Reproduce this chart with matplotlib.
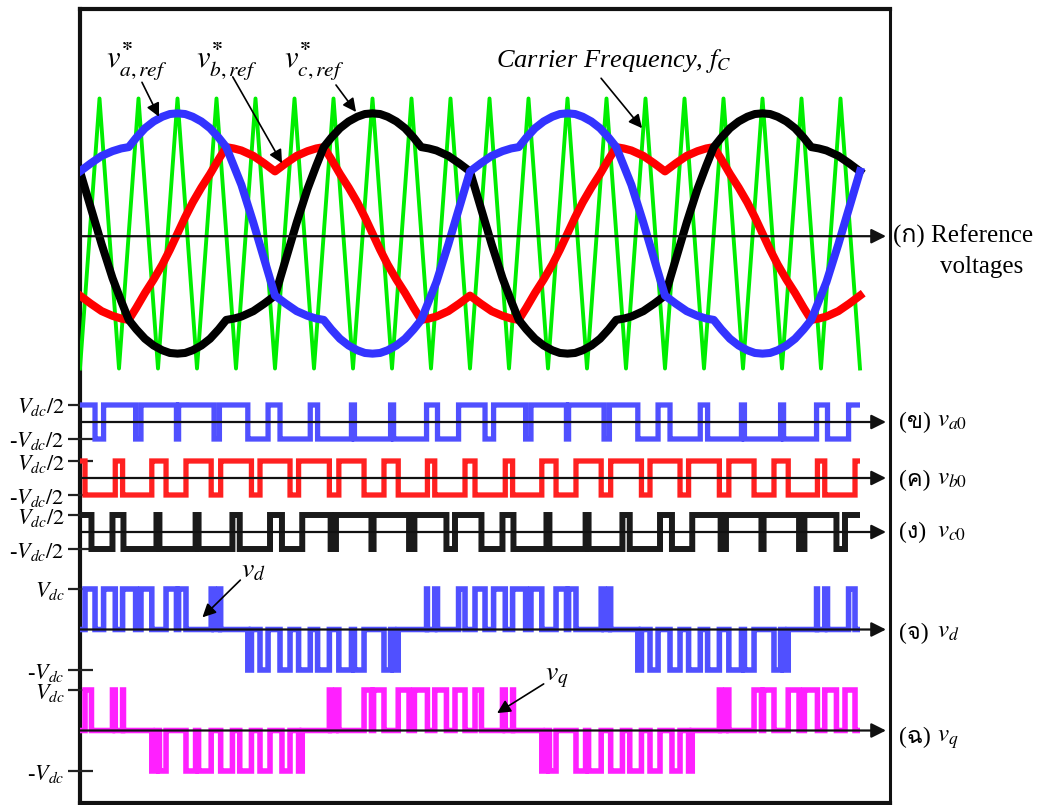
import numpy as np
import matplotlib
matplotlib.use("Agg")
import matplotlib.pyplot as plt
from matplotlib import font_manager as fm
from matplotlib.ft2font import FT2Font

# ---------------- data ----------------
# electrical angle in degrees (two fundamental periods)
THETA = [0, 10, 20, 30, 38, 45, 52, 60, 68, 76, 83, 90, 97, 104, 112, 120, 128, 135,
         142, 149, 160, 170, 180, 190, 200, 210, 218, 225, 232, 240, 248, 256, 263, 270,
         277, 284, 292, 300, 308, 315, 322, 329, 340, 350, 360,
         370, 380, 390, 398, 405, 412, 420, 428, 436, 443, 450, 457, 464, 472, 480, 488, 495,
         502, 509, 520, 530, 540, 550, 560, 570, 578, 585, 592, 600, 608, 616, 623, 630,
         637, 644, 652, 660, 668, 675, 682, 689, 700, 710, 720]

# reference voltages (per unit of carrier amplitude)
VA_REF = [0.46, 0.52, 0.575, 0.61, 0.63, 0.64, 0.71, 0.78, 0.83, 0.865, 0.885, 0.89,
          0.885, 0.865, 0.83, 0.78, 0.71, 0.64, 0.50, 0.36, 0.08, -0.19, -0.46,
          -0.52, -0.575, -0.61, -0.63, -0.64, -0.71, -0.78, -0.83, -0.865, -0.885, -0.89,
          -0.885, -0.865, -0.83, -0.78, -0.71, -0.64, -0.50, -0.36, -0.08, 0.19, 0.46,
          0.52, 0.575, 0.61, 0.63, 0.64, 0.71, 0.78, 0.83, 0.865, 0.885, 0.89,
          0.885, 0.865, 0.83, 0.78, 0.71, 0.64, 0.50, 0.36, 0.08, -0.19, -0.46,
          -0.52, -0.575, -0.61, -0.63, -0.64, -0.71, -0.78, -0.83, -0.865, -0.885, -0.89,
          -0.885, -0.865, -0.83, -0.78, -0.71, -0.64, -0.50, -0.36, -0.08, 0.19, 0.46]

VB_REF = [-0.46, -0.52, -0.575, -0.61, -0.63, -0.64, -0.55, -0.44, -0.34, -0.23, -0.12, 0.0,
          0.12, 0.23, 0.34, 0.44, 0.55, 0.64, 0.63, 0.615, 0.575, 0.52, 0.46,
          0.52, 0.575, 0.61, 0.63, 0.64, 0.55, 0.44, 0.34, 0.23, 0.12, 0.0,
          -0.12, -0.23, -0.34, -0.44, -0.55, -0.64, -0.63, -0.615, -0.575, -0.52, -0.46,
          -0.52, -0.575, -0.61, -0.63, -0.64, -0.55, -0.44, -0.34, -0.23, -0.12, 0.0,
          0.12, 0.23, 0.34, 0.44, 0.55, 0.64, 0.63, 0.615, 0.575, 0.52, 0.46,
          0.52, 0.575, 0.61, 0.63, 0.64, 0.55, 0.44, 0.34, 0.23, 0.12, 0.0,
          -0.12, -0.23, -0.34, -0.44, -0.55, -0.64, -0.63, -0.615, -0.575, -0.52, -0.46]

VC_REF = [0.46, 0.19, -0.08, -0.33, -0.50, -0.64, -0.71, -0.78, -0.83, -0.865, -0.885, -0.89,
          -0.885, -0.865, -0.83, -0.78, -0.71, -0.64, -0.63, -0.615, -0.575, -0.52, -0.46,
          -0.19, 0.08, 0.33, 0.50, 0.64, 0.71, 0.78, 0.83, 0.865, 0.885, 0.89,
          0.885, 0.865, 0.83, 0.78, 0.71, 0.64, 0.63, 0.615, 0.575, 0.52, 0.46,
          0.19, -0.08, -0.33, -0.50, -0.64, -0.71, -0.78, -0.83, -0.865, -0.885, -0.89,
          -0.885, -0.865, -0.83, -0.78, -0.71, -0.64, -0.63, -0.615, -0.575, -0.52, -0.46,
          -0.19, 0.08, 0.33, 0.50, 0.64, 0.71, 0.78, 0.83, 0.865, 0.885, 0.89,
          0.885, 0.865, 0.83, 0.78, 0.71, 0.64, 0.63, 0.615, 0.575, 0.52, 0.46]

# triangular carrier vertices
CARRIER_THETA = [0, 18, 36, 54, 72, 90, 108, 126, 144, 162, 180, 198, 216, 234, 252, 270,
                 288, 306, 324, 342, 360, 378, 396, 414, 432, 450, 468, 486, 504, 522, 540,
                 558, 576, 594, 612, 630, 648, 666, 684, 702, 720]
CARRIER_VAL = [-1, 1, -1, 1, -1, 1, -1, 1, -1, 1, -1, 1, -1, 1, -1, 1, -1, 1, -1, 1, -1,
               1, -1, 1, -1, 1, -1, 1, -1, 1, -1, 1, -1, 1, -1, 1, -1, 1, -1, 1, -1]

VDC = 1.0

REF_LABELS = [r"$v^{\mathbf{*}}_{a,ref}$", r"$v^{\mathbf{*}}_{b,ref}$", r"$v^{\mathbf{*}}_{c,ref}$"]
CARRIER_LABEL = r"Carrier Frequency, $f_C$"
PANEL_TAGS = ["(ข)", "(ค)", "(ง)", "(จ)", "(ฉ)"]
PANEL_VARS = [r"$v_{a\mathit{0}}$", r"$v_{b\mathit{0}}$", r"$v_{c\mathit{0}}$", r"$v_d$", r"$v_q$"]
TOP_LABEL = ["(ก) Reference", "voltages"]
HALF_TICKS = [r"$V_{dc}/2$", r"-$V_{dc}/2$"]
FULL_TICKS = [r"$V_{dc}$", r"-$V_{dc}$"]

# ---------------- fonts ----------------
def find_thai_family():
    seen = set()
    for f in fm.fontManager.ttflist:
        if f.fname in seen:
            continue
        seen.add(f.fname)
        try:
            ft = FT2Font(f.fname)
            if all(ft.get_char_index(ord(c)) for c in "กขคงจฉ"):
                return f.name
        except Exception:
            pass
    return None

thai = find_thai_family()
SERIF = ["Liberation Serif"] + ([thai] if thai else []) + ["DejaVu Serif", "DejaVu Sans"]
plt.rcParams["font.family"] = SERIF
plt.rcParams["mathtext.fontset"] = "stix"

# ---------------- derived PWM signals ----------------
t = np.linspace(0, 720, 28801)
car = np.interp(t, CARRIER_THETA, CARRIER_VAL)
va0 = np.where(np.interp(t, THETA, VA_REF) > car, VDC / 2, -VDC / 2)
vb0 = np.where(np.interp(t, THETA, VB_REF) > car, VDC / 2, -VDC / 2)
vc0 = np.where(np.interp(t, THETA, VC_REF) > car, VDC / 2, -VDC / 2)
vd = va0 - vb0
vq = vc0 - vb0

# ---------------- layout helpers (pixels) ----------------
W, H = 1059, 805
fig = plt.figure(figsize=(W / 100, H / 100), dpi=100)
fig.patch.set_facecolor("white")


def rect(x0, y0, x1, y1):
    return [x0 / W, 1 - y1 / H, (x1 - x0) / W, (y1 - y0) / H]


def ftext(x, y, s, **kw):
    return fig.text(x / W, 1 - y / H, s, **kw)


X0, X1 = 80, 890
PXDEG = 390 / 360.0
XMAX = (X1 - X0) / PXDEG
XTIP = (886 - X0) / PXDEG

# outer box
axf = fig.add_axes(rect(80, 9, 890, 803))
axf.set_xticks([]); axf.set_yticks([])
axf.patch.set_alpha(0)
for s, lw in (("left", 3.0), ("top", 3.0), ("right", 2.2), ("bottom", 3.0)):
    axf.spines[s].set_linewidth(lw)
    axf.spines[s].set_color("#111111")


def clean(ax):
    ax.patch.set_alpha(0)
    for s in ax.spines.values():
        s.set_visible(False)
    ax.set_xticks([])
    ax.set_xlim(0, XMAX)


def axis_arrow(ax, y=0.0):
    ax.annotate("", xy=(XTIP, y), xytext=(0, y),
                arrowprops=dict(arrowstyle="-|>", lw=1.6, color="#111111",
                                mutation_scale=22, shrinkA=0, shrinkB=0),
                zorder=10, annotation_clip=False)


# ---------------- top panel ----------------
YC, SC = 233.5, 135.0
axt = fig.add_axes(rect(X0, 10, X1, 385))
clean(axt)
axt.set_ylim((YC - 385) / SC, (YC - 10) / SC)
axt.set_yticks([])
axt.plot(CARRIER_THETA, CARRIER_VAL, color="#00EE00", lw=2.8, zorder=2)
axt.plot(THETA, VB_REF, color="#FF0000", lw=5.8, zorder=3, solid_joinstyle="round")
axt.plot(THETA, VC_REF, color="#000000", lw=5.8, zorder=4, solid_joinstyle="round")
axt.plot(THETA, VA_REF, color="#3333FF", lw=5.8, zorder=5, solid_joinstyle="round")
axis_arrow(axt, -0.02)

ap = dict(arrowstyle="-|>", lw=1.2, color="k", mutation_scale=20, shrinkA=0, shrinkB=0)
label_pos = [(52, 1.27), (135, 1.27), (216, 1.27)]
tips = [((57.2, 1.12), (72.9, 0.865)), ((141, 1.16), (186.5, 0.52)), ((236.3, 1.10), (254.8, 0.90))]
for lab, (lx, ly), (tail, tip) in zip(REF_LABELS, label_pos, tips):
    axt.text(lx, ly, lab, fontsize=22, ha="center", va="center", zorder=12)
    axt.annotate("", xy=tip, xytext=tail, arrowprops=ap, zorder=12)
axt.text(493, 1.28, CARRIER_LABEL, fontsize=19, style="italic", ha="center", va="center", zorder=12)
axt.annotate("", xy=(518.8, 0.78), xytext=(481, 1.15), arrowprops=ap, zorder=12)

# ---------------- phase voltage panels ----------------
PH_SC = 34.0
ph_specs = [(422, va0, "#5050FF", 3.8), (478, vb0, "#FF2020", 3.8), (532, vc0, "#1A1A1A", 4.3)]
for yc, sig, col, lw in ph_specs:
    ax = fig.add_axes(rect(X0, yc - 26, X1, yc + 26))
    clean(ax)
    ax.set_ylim(-26 / PH_SC, 26 / PH_SC)
    ax.plot(t, sig, color=col, lw=lw, drawstyle="steps-post",
            solid_joinstyle="miter", solid_capstyle="butt", zorder=3)
    axis_arrow(ax, 0.0)
    ax.set_yticks([VDC / 2, -VDC / 2])
    ax.set_yticklabels(HALF_TICKS)
    ax.tick_params(axis="y", direction="inout", length=18, width=1.6, pad=2,
                   labelsize=16, color="#222222")

# ---------------- d / q panels ----------------
DQ_SC = 40.5
dq_specs = [(629.5, vd, "#5050FF"), (730.5, vq, "#FF20FF")]
dq_axes = []
for yc, sig, col in dq_specs:
    ax = fig.add_axes(rect(X0, yc - 48, X1, yc + 48))
    clean(ax)
    ax.set_ylim(-48 / DQ_SC, 48 / DQ_SC)
    ax.plot(t, sig, color=col, lw=4.0, drawstyle="steps-post",
            solid_joinstyle="miter", solid_capstyle="butt", zorder=3)
    axis_arrow(ax, 0.0)
    ax.set_yticks([VDC, -VDC])
    ax.set_yticklabels(FULL_TICKS)
    ax.tick_params(axis="y", direction="inout", length=18, width=1.6, pad=2,
                   labelsize=16, color="#222222")
    dq_axes.append(ax)

dq_axes[0].text(160, 1.45, r"$v_d$", fontsize=20, ha="center", va="center")
dq_axes[0].annotate("", xy=(113, 0.3), xytext=(148, 1.22), arrowprops=ap)
dq_axes[1].text(440, 1.32, r"$v_q$", fontsize=20, ha="center", va="center")
dq_axes[1].annotate("", xy=(385, 0.43), xytext=(428, 1.15), arrowprops=ap)

# right-hand panel names
tag_y = [422, 480, 532, 633, 737]
var_base = [427, 485, 538, 638, 742]
for tag, var, ty, vb in zip(PANEL_TAGS, PANEL_VARS, tag_y, var_base):
    ftext(899, ty, tag, fontsize=17, ha="left", va="center")
    ftext(937, vb, var, fontsize=18, ha="left", va="baseline")

ftext(893, 236, TOP_LABEL[0], fontsize=18, ha="left", va="center")
ftext(982, 267, TOP_LABEL[1], fontsize=18, ha="center", va="center")

fig.savefig("out.png", dpi=100, facecolor="white")
